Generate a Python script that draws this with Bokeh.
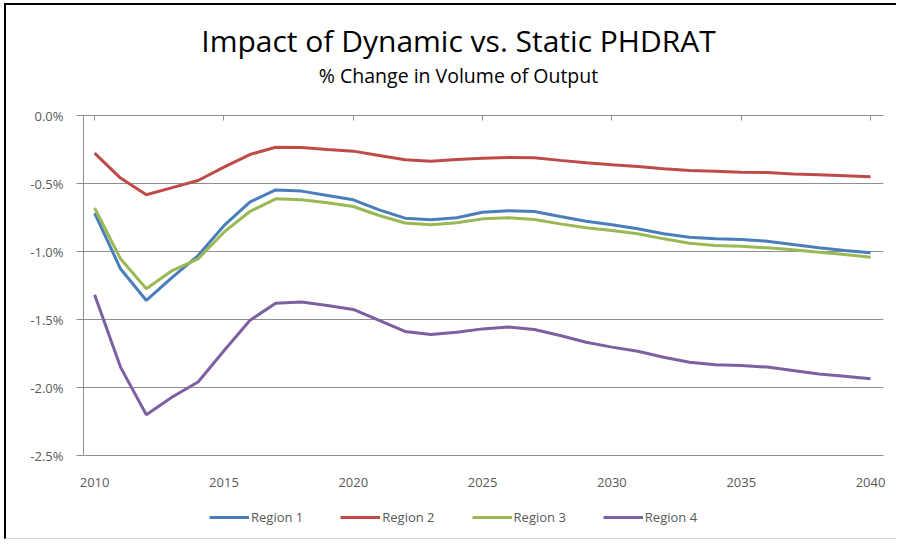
from bokeh.plotting import figure
from bokeh.layouts import column
from bokeh.models import (Legend, LegendItem, PrintfTickFormatter, FixedTicker, Range1d, Label,
                          LinearAxis, CustomJSTickFormatter)
from bokeh.embed import file_html
from bokeh.resources import INLINE

years = list(range(2010, 2041))
region1 = [-0.718, -1.127, -1.36, -1.19, -1.03, -0.81, -0.637, -0.547, -0.556, -0.588, -0.62,
           -0.694, -0.755, -0.767, -0.752, -0.711, -0.70, -0.706, -0.743, -0.777, -0.804,
           -0.833, -0.87, -0.895, -0.907, -0.912, -0.924, -0.949, -0.973, -0.993, -1.01]
region2 = [-0.277, -0.46, -0.583, -0.53, -0.478, -0.38, -0.287, -0.233, -0.236, -0.25, -0.262,
           -0.294, -0.326, -0.336, -0.324, -0.315, -0.309, -0.31, -0.33, -0.348, -0.363,
           -0.375, -0.392, -0.404, -0.41, -0.417, -0.42, -0.43, -0.436, -0.443, -0.45]
region3 = [-0.68, -1.054, -1.274, -1.14, -1.054, -0.858, -0.706, -0.613, -0.62, -0.642, -0.669,
           -0.735, -0.79, -0.804, -0.789, -0.76, -0.752, -0.765, -0.797, -0.826, -0.846,
           -0.87, -0.907, -0.939, -0.956, -0.961, -0.973, -0.988, -1.005, -1.022, -1.042]
region4 = [-1.318, -1.85, -2.2, -2.07, -1.96, -1.73, -1.507, -1.38, -1.372, -1.397, -1.426,
           -1.507, -1.588, -1.61, -1.593, -1.569, -1.556, -1.574, -1.618, -1.667, -1.703,
           -1.733, -1.777, -1.814, -1.833, -1.838, -1.85, -1.875, -1.9, -1.917, -1.936]
series_names = ["Region 1", "Region 2", "Region 3", "Region 4"]
colors = ["#4A7EBB", "#BE4B48", "#98B954", "#7D60A0"]
x_ticks = [2010, 2015, 2020, 2025, 2030, 2035, 2040]
y_ticks = [0.0, -0.5, -1.0, -1.5, -2.0, -2.5]
category_bounds = [y + 0.5 for y in years[:-1]]
all_series = [region1, region2, region3, region4]
title_text = "Impact of Dynamic vs. Static PHDRAT"
subtitle_text = "% Change in Volume of Output"

FONT = "Open Sans"
GRAY = "#8f8f8f"
LABEL = "#595959"
W = 890
BL, BR = 77, 13

# ---- title strip ----
p0 = figure(width=W, height=100, output_backend="svg", toolbar_location=None, title=None,
            x_range=Range1d(0, 800), y_range=Range1d(0, 100),
            x_axis_type=None, y_axis_type=None,
            min_border_left=BL, min_border_right=BR, min_border_top=0, min_border_bottom=0)
p0.grid.grid_line_color = None
p0.outline_line_color = None
p0.add_layout(Label(x=375, y=65, text=title_text, text_align="center", text_baseline="alphabetic",
                    text_font=FONT, text_font_size="30px", text_color="#000000"))
p0.add_layout(Label(x=375, y=30.5, text=subtitle_text, text_align="center", text_baseline="alphabetic",
                    text_font=FONT, text_font_size="19.5px", text_color="#000000"))

# ---- main chart ----
p = figure(width=W, height=395, output_backend="svg", toolbar_location=None,
           x_range=Range1d(2009.57, 2040.5), y_range=Range1d(-2.5, 0.0),
           min_border_left=BL, min_border_right=BR, min_border_top=10, min_border_bottom=45)

# category axis drawn along the 0% line (top), ticks pointing down
top_axis = LinearAxis(ticker=FixedTicker(ticks=category_bounds),
                      formatter=CustomJSTickFormatter(code="return ''"),
                      axis_line_color=GRAY, major_tick_line_color=GRAY,
                      major_tick_in=5, major_tick_out=0, minor_tick_line_color=None,
                      major_label_text_font_size="1px", major_label_standoff=0)
p.add_layout(top_axis, "above")

renderers = []
for ys, c in zip(all_series, colors):
    renderers.append(p.line(years, ys, line_color=c, line_width=3))

p.xaxis[0].ticker = FixedTicker(ticks=x_ticks)
p.yaxis.ticker = FixedTicker(ticks=y_ticks)
p.yaxis.formatter = PrintfTickFormatter(format="%.1f%%")
for ax in [p.below[0], p.yaxis[0]]:
    ax.axis_line_color = GRAY
    ax.major_tick_line_color = GRAY
    ax.minor_tick_line_color = None
    ax.major_label_text_font = FONT
    ax.major_label_text_font_size = "13px"
    ax.major_label_text_color = LABEL
p.below[0].major_tick_in = 0
p.below[0].major_tick_out = 0
p.below[0].major_label_standoff = 18
p.yaxis.major_tick_in = 0
p.yaxis.major_tick_out = 7
p.yaxis.major_label_standoff = 13

p.xgrid.grid_line_color = None
p.ygrid.grid_line_color = GRAY
p.ygrid.grid_line_width = 1
p.outline_line_color = None

# ---- legend strip (same series, plotted outside its visible range) ----
p2 = figure(width=W, height=38, output_backend="svg", toolbar_location=None,
            x_range=Range1d(2009.57, 2040.5), y_range=Range1d(10, 11),
            x_axis_type=None, y_axis_type=None,
            min_border_left=BL, min_border_right=BR, min_border_top=0, min_border_bottom=0)
p2.grid.grid_line_color = None
p2.outline_line_color = None
leg_renderers = [p2.line(years, ys, line_color=c, line_width=3) for ys, c in zip(all_series, colors)]
legend = Legend(items=[LegendItem(label=n, renderers=[r]) for n, r in zip(series_names, leg_renderers)],
                orientation="horizontal", location=(126, 12),
                label_text_font=FONT, label_text_font_size="13px", label_text_color=LABEL,
                glyph_width=40, glyph_height=14, label_standoff=2, spacing=37,
                border_line_color=None, background_fill_alpha=0, padding=0, margin=0)
p2.add_layout(legend, "center")

layout = column(p0, p, p2, spacing=0,
                styles={"margin": "3px 0 0 4px", "border-left": "2px solid #000000",
                        "border-top": "2px solid #000000", "border-bottom": "1px solid #d0d0d0"})

open("out.html", "w").write(file_html(layout, INLINE))
